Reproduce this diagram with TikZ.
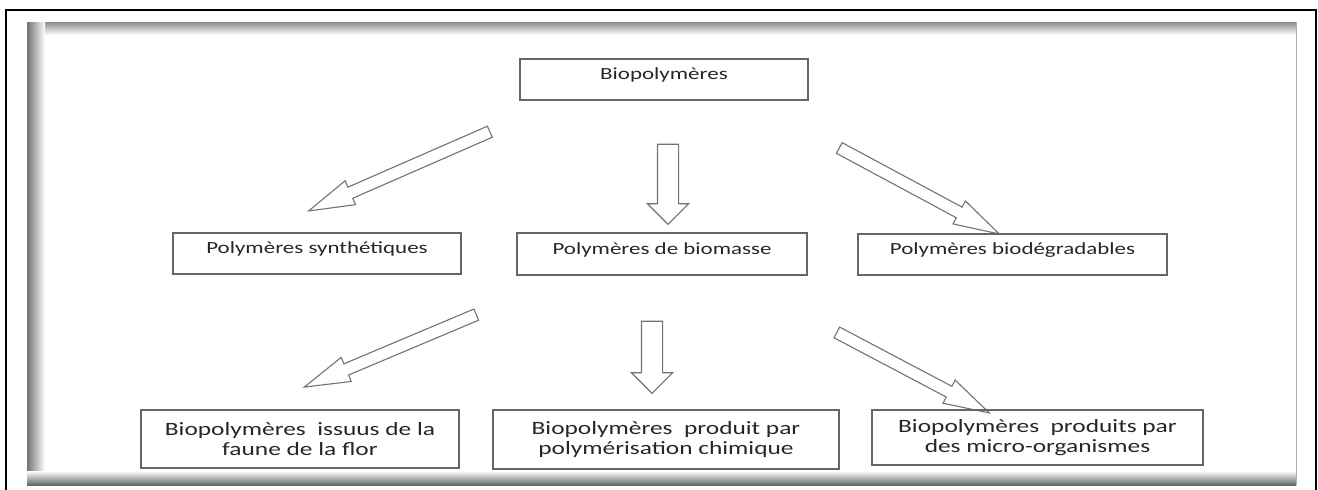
\documentclass[tikz,border=0pt]{standalone}
\usepackage{fontspec}
\setmainfont{Carlito}[FakeStretch=1.35]
\usetikzlibrary{calc,shapes.arrows}

\tikzset{
  box/.style={draw=black!60, line width=1.3pt, text=black!85, inner sep=2pt},
  onebox/.style={box, font=\fontsize{17}{20}\selectfont, text height=8pt, text depth=8pt},
  twobox/.style={box, align=center, font=\fontsize{18.8}{20.5}\selectfont},
  diagarrow/.style={single arrow, draw=black!55, line width=1.1pt, fill=white,
    inner sep=5.5pt, minimum width=25pt, single arrow head extend=7pt,
    single arrow tip angle=32},
  downarrow/.style={single arrow, draw=black!55, line width=1.1pt, fill=white,
    inner sep=10pt, minimum width=40pt, single arrow head extend=10pt,
    single arrow tip angle=90}
}

% block arrow from tail #2 to tip #3
\newcommand{\blockarrow}[3]{%
  \path let \p1=($(#3)-(#2)$), \n1={veclen(\x1,\y1)}, \n2={atan2(\y1,\x1)} in
    node[#1, minimum height=\n1, rotate={\n2}] (#2#3) at ($(#2)!0.5!(#3)$) {};}

\begin{document}
\begin{tikzpicture}[x=1pt,y=-1pt]
    \useasboundingbox (0,0) rectangle (1318,490);

    % frame and shadow
    \draw[line width=2pt] (5.5,490) -- (5.5,10) -- (1316,10) -- (1316,490);
    \shade[top color=black!45, bottom color=white] (27,22) rectangle (1296,35);
    \shade[left color=black!55, right color=white] (27,22) rectangle (45,485);
    \shade[top color=white, bottom color=black!60] (27,471) rectangle (1296,485);
    \draw[black!30] (1296,22) -- (1296,485);

    % first level
    \node[onebox, minimum width=288pt, minimum height=41pt] (bio) at (664,79.5)
      {Biopolymères\hspace{20pt}};

    \coordinate (t1) at (499.5,127.5); \coordinate (h1) at (318.3,206.7);
    \coordinate (t2) at (668,139);     \coordinate (h2) at (668,219);
    \coordinate (t3) at (830,143);     \coordinate (h3) at (990,229);
    \blockarrow{diagarrow}{t1}{h1}
    \blockarrow{downarrow}{t2}{h2}
    \blockarrow{diagarrow}{t3}{h3}

    % second level
    \node[onebox, minimum width=288pt, minimum height=41pt] (synth) at (317,253.5)
      {Polymères synthétiques\hspace{22pt}};
    \node[onebox, minimum width=290pt, minimum height=42pt] (biomasse) at (662,254)
      {Polymères de biomasse\hspace{22pt}};
    \node[onebox, minimum width=309pt, minimum height=41pt] (biodeg) at (1012.5,254.5)
      {Polymères biodégradables\hspace{12pt}};

    \coordinate (t4) at (486,310.5);   \coordinate (h4) at (314,383);
    \coordinate (t5) at (652,316);     \coordinate (h5) at (652,388);
    \coordinate (t6) at (827.5,327.5); \coordinate (h6) at (980,408);
    \blockarrow{diagarrow}{t4}{h4}
    \blockarrow{downarrow}{t5}{h5}
    \blockarrow{diagarrow}{t6}{h6}

    % third level
    \node[twobox, minimum width=318pt, minimum height=58pt] (faune) at (300,439)
      {Biopolymères~~issuus de la\\faune de la flor};
    \node[twobox, minimum width=346pt, minimum height=59pt] (chimique) at (666,439.5)
      {Biopolymères~~produit par\\polymérisation chimique};
    \node[twobox, minimum width=331pt, minimum height=55pt] (micro) at (1037.5,437.5)
      {Biopolymères~~produits par\\des micro-organismes};
\end{tikzpicture}
\end{document}
